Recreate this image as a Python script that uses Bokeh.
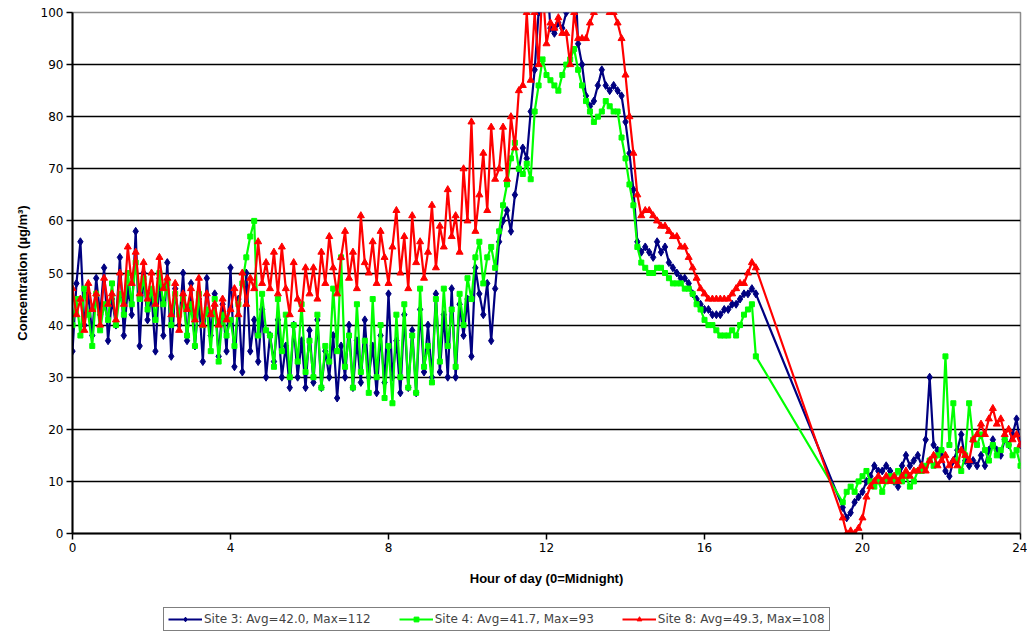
from bokeh.plotting import figure
from bokeh.layouts import column
from bokeh.models import Range1d, FixedTicker, Legend, LegendItem
from bokeh.embed import file_html
from bokeh.resources import INLINE

# time grid (hours): morning/afternoon block, then evening block after data gap
hours_day = [round(i * 0.1, 1) for i in range(174)]        # 0.0 .. 17.3
hours_eve = [round(19.5 + i * 0.1, 1) for i in range(46)]  # 19.5 .. 24.0

site3_day = [
    35, 48, 56, 40, 46, 38, 49, 42, 51, 37,
    45, 40, 53, 38, 47, 42, 58, 36, 50, 41,
    46, 35, 49, 38, 52, 34, 47, 40, 50, 37,
    48, 36, 45, 33, 49, 38, 46, 34, 44, 35,
    51, 32, 45, 31, 50, 35, 41, 33, 43, 30,
    38, 33, 41, 30, 36, 28, 40, 30, 37, 28,
    39, 29, 41, 28, 35, 30, 38, 26, 36, 30,
    40, 28, 37, 29, 41, 30, 36, 27, 38, 29,
    46, 30, 37, 27, 42, 28, 39, 27, 43, 31,
    40, 30, 46, 31, 42, 30, 47, 30, 44, 38,
    45, 34, 51, 46, 42, 48, 37, 47, 56, 60,
    62, 58, 65, 70, 74, 72, 81, 89, 100, 104,
    108, 97, 96, 98, 97, 100, 105, 112, 94, 90,
    84, 82, 83, 86, 89, 86, 85, 86, 85, 84,
    79, 73, 66, 56, 54, 55, 54, 53, 56, 54,
    55, 52, 51, 50, 49, 49, 48, 46, 45, 44,
    43, 43, 42, 42, 42, 43, 43, 44, 44, 45,
    46, 46, 47, 46,
]
site3_eve = [
    5, 3, 4, 6, 7, 8, 10, 11, 13, 12,
    12, 13, 12, 10, 9, 13, 15, 13, 14, 15,
    13, 18, 30, 17, 16, 15, 12, 11, 14, 16,
    19, 14, 13, 14, 13, 15, 13, 16, 18, 16,
    15, 18, 17, 19, 22, 17,
]

site4_day = [
    40, 45, 38, 47, 42, 36, 46, 39, 44, 41,
    48, 40, 46, 42, 50, 44, 52, 45, 49, 43,
    47, 41, 50, 44, 48, 40, 46, 42, 45, 38,
    44, 36, 46, 40, 43, 35, 45, 33, 42, 38,
    41, 36, 44, 48, 53, 57, 60, 38, 46, 39,
    38, 32, 45, 35, 42, 30, 40, 33, 44, 31,
    37, 30, 42, 28, 36, 33, 47, 35, 53, 32,
    38, 28, 44, 31, 37, 27, 45, 30, 40, 26,
    36, 25, 42, 30, 44, 28, 38, 27, 47, 32,
    36, 29, 45, 33, 47, 36, 43, 32, 46, 40,
    49, 45, 53, 56, 48, 53, 55, 51, 58, 63,
    67, 72, 75, 70, 69, 71, 68, 81, 86, 91,
    88, 87, 86, 85, 88, 90, 91, 93, 89, 86,
    83, 81, 79, 80, 81, 83, 82, 81, 81, 76,
    72, 67, 63, 55, 52, 51, 50, 50, 51, 51,
    50, 49, 48, 48, 48, 47, 47, 46, 44, 43,
    41, 40, 40, 39, 38, 38, 38, 39, 38, 40,
    42, 43, 44, 34,
]
site4_eve = [
    6, 8, 9, 8, 10, 11, 12, 10, 9, 10,
    8, 10, 11, 10, 12, 10, 11, 9, 10, 12,
    12, 13, 14, 13, 15, 16, 34, 17, 25, 14,
    12, 15, 25, 18, 17, 19, 16, 14, 17, 15,
    16, 18, 17, 15, 16, 13,
]

site8_day = [
    47, 42, 45, 39, 48, 43, 46, 40, 49, 44,
    46, 41, 50, 44, 55, 48, 54, 46, 52, 45,
    50, 44, 53, 47, 49, 42, 48, 39, 46, 43,
    47, 41, 49, 40, 46, 42, 44, 40, 45, 41,
    43, 47, 42, 50, 44, 49, 47, 56, 48, 52,
    47, 54, 46, 55, 47, 42, 52, 45, 43, 51,
    46, 51, 45, 54, 48, 57, 51, 46, 53, 58,
    49, 54, 47, 61, 52, 50, 56, 48, 58, 53,
    48, 55, 62, 50, 57, 47, 61, 52, 56, 49,
    54, 63, 51, 59, 55, 66, 57, 61, 54, 70,
    60, 79, 58, 65, 73, 62, 78, 68, 70, 78,
    68, 80, 74, 85, 86, 100, 87, 100, 90, 105,
    94, 98, 97, 99, 96, 96, 90, 100, 95, 95,
    95, 98, 100, 102, 101, 101, 100, 100, 98, 95,
    88, 80, 73, 65, 61, 62, 62, 61, 60, 59,
    59, 58, 57, 57, 55, 55, 53, 51, 49, 47,
    46, 45, 45, 45, 45, 45, 45, 46, 47, 48,
    48, 50, 52, 51,
]
site8_eve = [
    3, 0, 0.5, 0, 1, 3, 7, 9, 10, 11,
    10, 11, 10, 11, 10, 11, 12, 11, 12, 12,
    13, 12, 14, 15, 13, 14, 15, 13, 14, 13,
    16, 15, 14, 18, 19, 21, 19, 22, 24, 21,
    22, 19, 20, 18, 19, 17,
]

labels = [
    "Site 3: Avg=42.0, Max=112",
    "Site 4: Avg=41.7, Max=93",
    "Site 8: Avg=49.3, Max=108",
]
colors = ["#000080", "#00FF00", "#FF0000"]
markers = ["diamond", "square", "triangle"]
msizes = [8, 5, 7]

x_ticks = [0, 4, 8, 12, 16, 20, 24]
y_ticks = [0, 10, 20, 30, 40, 50, 60, 70, 80, 90, 100]

FONT = "Liberation Sans"

p = figure(
    width=1027, height=600,
    x_range=Range1d(0, 24), y_range=Range1d(0, 100),
    output_backend="svg", toolbar_location=None,
    min_border_left=72, min_border_right=7, min_border_top=12, min_border_bottom=67,
)
p.background_fill_color = "white"
p.border_fill_color = "white"
p.outline_line_color = "#8c8c8c"
p.outline_line_width = 1.5

p.xgrid.visible = False
p.ygrid.ticker = FixedTicker(ticks=y_ticks)
p.ygrid.grid_line_color = "black"
p.ygrid.grid_line_width = 1.5

for ax in (p.xaxis[0], p.yaxis[0]):
    ax.axis_line_color = "black"
    ax.axis_line_width = 2
    ax.major_tick_line_color = "black"
    ax.major_tick_line_width = 1.5
    ax.major_tick_out = 6
    ax.major_tick_in = 0
    ax.minor_tick_line_color = None
    ax.major_label_text_font = "DejaVu Sans"
    ax.major_label_text_font_size = "12px"
    ax.major_label_text_color = "black"
    ax.axis_label_text_font = FONT
    ax.axis_label_text_font_size = "13px"
    ax.axis_label_text_font_style = "bold"
    ax.axis_label_text_color = "black"

p.xaxis.ticker = FixedTicker(ticks=x_ticks)
p.yaxis.ticker = FixedTicker(ticks=y_ticks)
p.xaxis.axis_label = "Hour of day (0=Midnight)"
p.yaxis.axis_label = "Concentration (\u00b5g/m\u00b3)"
p.xaxis.major_label_standoff = 3
p.xaxis.axis_label_standoff = 16
p.yaxis.major_label_standoff = 3
p.yaxis.axis_label_standoff = 8

series = [
    (site3_day + site3_eve),
    (site4_day + site4_eve),
    (site8_day + site8_eve),
]
hours = hours_day + hours_eve

for vals, col, mk, ms in zip(series, colors, markers, msizes):
    p.line(hours, vals, line_color=col, line_width=2.2)
    p.scatter(hours, vals, marker=mk, size=ms, fill_color=col, line_color=col)

# legend strip below the chart: legend samples only, placed outside its visible range
lg = figure(
    width=1027, height=33, output_backend="svg", toolbar_location=None,
    min_border=0, x_range=Range1d(0, 1), y_range=Range1d(0, 1),
)
lg.axis.visible = False
lg.grid.visible = False
lg.outline_line_color = None
lg.background_fill_color = "white"
lg.border_fill_color = "white"

items = []
for lab, col, mk, ms in zip(labels, colors, markers, msizes):
    ln = lg.line([5, 6], [5, 6], line_color=col, line_width=2.2)
    sc = lg.scatter([5], [5], marker=mk, size=ms, fill_color=col, line_color=col)
    items.append(LegendItem(label=lab, renderers=[ln, sc]))

legend = Legend(items=items, orientation="horizontal", location=(91, 2))
legend.label_text_font = "DejaVu Sans"
legend.label_text_font_size = "12px"
legend.label_standoff = 2
legend.glyph_width = 34
legend.glyph_height = 12
legend.spacing = 28
legend.padding = 4
legend.margin = 0
legend.border_line_color = "black"
legend.border_line_width = 1.5
legend.label_height = 12
lg.add_layout(legend, "center")

layout = column(p, lg, spacing=0)
open("out.html", "w").write(file_html(layout, INLINE))
